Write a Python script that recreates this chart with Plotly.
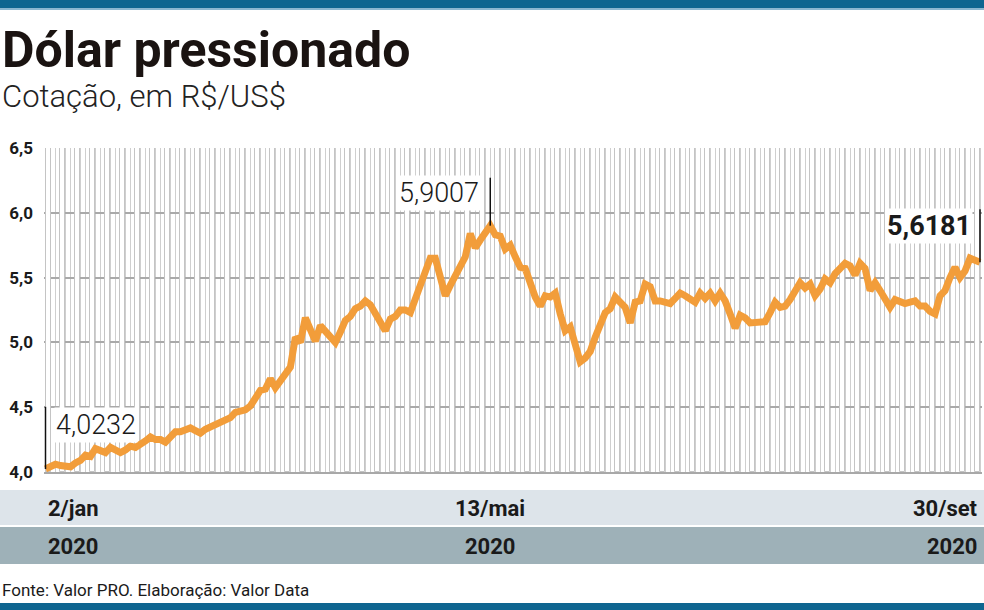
import plotly.graph_objects as go

# Cotação diária do dólar (R$/US$), pregões de 2/jan a 30/set de 2020
cotacao = [
    4.0232, 4.04, 4.06, 4.05, 4.05, 4.04, 4.07, 4.09, 4.13, 4.12,
    4.18, 4.16, 4.15, 4.19, 4.17, 4.15, 4.17, 4.20, 4.19, 4.21,
    4.24, 4.27, 4.25, 4.25, 4.23, 4.27, 4.31, 4.31, 4.32, 4.34,
    4.32, 4.30, 4.33, 4.35, 4.36, 4.38, 4.40, 4.42, 4.46, 4.47,
    4.48, 4.51, 4.57, 4.63, 4.64, 4.72, 4.65, 4.70, 4.76, 4.81,
    5.04, 5.00, 5.19, 5.10, 5.01, 5.13, 5.08, 5.03, 5.00, 5.08,
    5.17, 5.20, 5.26, 5.28, 5.32, 5.29, 5.22, 5.15, 5.09, 5.18,
    5.20, 5.25, 5.25, 5.23, 5.33, 5.44, 5.55, 5.65, 5.65, 5.50,
    5.36, 5.44, 5.52, 5.60, 5.66, 5.84, 5.73, 5.79, 5.84, 5.9007,
    5.83, 5.82, 5.72, 5.75, 5.66, 5.58, 5.57, 5.45, 5.35, 5.28,
    5.36, 5.35, 5.38, 5.22, 5.09, 5.12, 4.97, 4.85, 4.88, 4.93,
    5.04, 5.15, 5.23, 5.26, 5.35, 5.31, 5.27, 5.15, 5.31, 5.32,
    5.45, 5.43, 5.32, 5.32, 5.31, 5.30, 5.34, 5.38, 5.36, 5.34,
    5.31, 5.38, 5.34, 5.38, 5.32, 5.38, 5.32, 5.22, 5.11, 5.21,
    5.19, 5.15, 5.15, 5.16, 5.16, 5.23, 5.31, 5.27, 5.28, 5.33,
    5.40, 5.46, 5.42, 5.45, 5.36, 5.41, 5.49, 5.46, 5.53, 5.57,
    5.61, 5.59, 5.52, 5.61, 5.57, 5.40, 5.46, 5.40, 5.33, 5.27,
    5.33, 5.31, 5.30, 5.31, 5.32, 5.28, 5.28, 5.24, 5.22, 5.36,
    5.40, 5.50, 5.58, 5.50, 5.55, 5.65, 5.64, 5.6181,
]
pregao = list(range(len(cotacao)))

# Rótulos do eixo x
rotulos_idx = [0, 89, len(cotacao) - 1]
rotulos_dia = ["2/jan", "13/mai", "30/set"]
rotulos_ano = ["2020", "2020", "2020"]

# Destaques
destaque_idx = [0, 89, len(cotacao) - 1]
destaque_txt = ["4,0232", "5,9007", "<b>5,6181</b>"]

y_ticks = [4.0, 4.5, 5.0, 5.5, 6.0, 6.5]

W, H = 984, 610
L, R, T, B = 44, 2, 148, 138
PW, PH = W - L - R, H - T - B

def px(x):
    return (x - L) / PW

def py(y):
    return (H - B - y) / PH

COND = "Roboto, sans-serif"

fig = go.Figure()

# grade decorativa (colunas contornadas)
grade_x = pregao[::3]
fig.add_trace(go.Bar(
    x=grade_x, y=[2.5] * len(grade_x), base=4.0, width=1, offset=0,
    marker=dict(color="white", line=dict(color="#c4c4c4", width=1)),
    hoverinfo="skip", showlegend=False,
))

fig.add_trace(go.Scatter(
    x=pregao, y=cotacao, mode="lines",
    line=dict(color="#f29d3a", width=7, shape="linear"),
    showlegend=False, hoverinfo="x+y",
))

shapes = []
annotations = []

# linhas-guia dos destaques
guia = [0.48, 0.37, 0.41]
for i, g in zip(destaque_idx, guia):
    shapes.append(dict(type="line", xref="x", yref="y",
                       x0=pregao[i], x1=pregao[i],
                       y0=cotacao[i], y1=cotacao[i] + g,
                       line=dict(color="#111", width=1.5), layer="above"))

texto_dy = [0.34, 0.25, 0.28]
anchors = ["left", "right", "right"]
shifts = [8, -9, -7]
for i, t, dy, a, s in zip(destaque_idx, destaque_txt, texto_dy, anchors, shifts):
    annotations.append(dict(x=pregao[i], y=cotacao[i] + dy, xref="x", yref="y",
                            text=t, showarrow=False, xanchor=a, yanchor="middle",
                            xshift=s, bgcolor="white", borderpad=1,
                            font=dict(family=COND, size=27, color="#1a1a1a",
                                      weight=300 if "<b>" not in t else 700)))

# faixas inferiores
shapes.append(dict(type="rect", xref="paper", yref="paper",
                   x0=px(0), x1=px(W), y0=py(525), y1=py(490),
                   fillcolor="#dde4ea", line=dict(width=0), layer="below"))
shapes.append(dict(type="rect", xref="paper", yref="paper",
                   x0=px(0), x1=px(W), y0=py(564), y1=py(527),
                   fillcolor="#9eb1b8", line=dict(width=0), layer="below"))
# barras azuis
shapes.append(dict(type="rect", xref="paper", yref="paper",
                   x0=px(0), x1=px(W), y0=py(8), y1=py(0),
                   fillcolor="#0e6590", line=dict(width=0)))
shapes.append(dict(type="rect", xref="paper", yref="paper",
                   x0=px(0), x1=px(W), y0=py(10), y1=py(8),
                   fillcolor="#8bb6d0", line=dict(width=0)))
shapes.append(dict(type="rect", xref="paper", yref="paper",
                   x0=px(0), x1=px(W), y0=py(610), y1=py(603),
                   fillcolor="#0e6590", line=dict(width=0)))

band_anchor = ["left", "center", "right"]
for i, d, a, ba in zip(rotulos_idx, rotulos_dia, rotulos_ano, band_anchor):
    annotations.append(dict(x=pregao[i], y=py(508), xref="x", yref="paper",
                            text=f"<b>{d}</b>", showarrow=False, xanchor=ba,
                            yanchor="middle",
                            font=dict(family=COND, size=22, color="#1a1a1a")))
    annotations.append(dict(x=pregao[i], y=py(546), xref="x", yref="paper",
                            text=f"<b>{a}</b>", showarrow=False, xanchor=ba,
                            yanchor="middle",
                            font=dict(family=COND, size=22, color="#1a1a1a")))

# título, subtítulo, fonte
annotations.append(dict(x=px(0), y=py(50), xref="paper", yref="paper",
                        text="<b>Dólar pressionado</b>", showarrow=False,
                        xanchor="left", yanchor="middle",
                        font=dict(family=COND, size=50, color="#1a1311", weight=900)))
annotations.append(dict(x=px(0), y=py(97), xref="paper", yref="paper",
                        text="Cotação, em R$/US$", showarrow=False,
                        xanchor="left", yanchor="middle",
                        font=dict(family=COND, size=31, color="#222", weight=300)))
annotations.append(dict(x=px(0), y=py(590), xref="paper", yref="paper",
                        text="Fonte: Valor PRO. Elaboração: Valor Data", showarrow=False,
                        xanchor="left", yanchor="middle",
                        font=dict(family=COND, size=17, color="#1a1a1a")))

fig.update_layout(
    width=W, height=H,
    margin=dict(l=L, r=R, t=T, b=B, pad=0),
    paper_bgcolor="white", plot_bgcolor="white",
    separators=",.",
    bargap=0,
    shapes=shapes, annotations=annotations,
    showlegend=False,
    xaxis=dict(range=[-0.3, len(cotacao) - 1 + 0.4], showticklabels=False,
               showgrid=True, dtick=1, tick0=0, gridcolor="#cfcfcf", gridwidth=1,
               zeroline=False, showline=True, linecolor="#a8a8a8", linewidth=2,
               ticks=""),
    yaxis=dict(range=[4.0, 6.5], tickvals=y_ticks, tickformat=".1f",
               showgrid=True, gridcolor="#a9a9a9", gridwidth=1.5,
               zeroline=False, showline=False, ticks="",
               ticklabelstandoff=10,
               tickfont=dict(family=COND, size=17, color="#1a1a1a", weight=700)),
)

fig.write_html(
    "out.html",
    config={"displayModeBar": False},
    post_script="document.body.style.margin='0';document.body.style.overflow='hidden';",
)
